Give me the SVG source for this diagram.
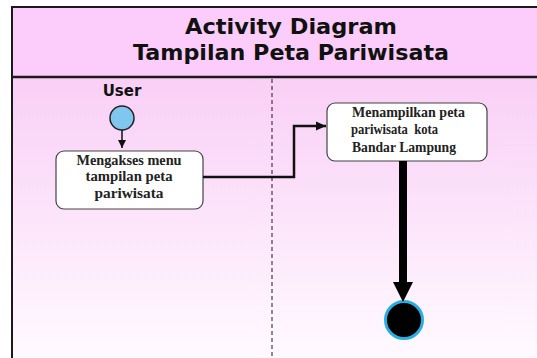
<svg xmlns="http://www.w3.org/2000/svg" width="537" height="358" viewBox="0 0 537 358">
<defs>
<linearGradient id="body" x1="0" y1="0" x2="0" y2="1">
<stop offset="0" stop-color="#f9cff6"/>
<stop offset="1" stop-color="#fffaff"/>
</linearGradient>
<marker id="arrSmall" markerWidth="10" markerHeight="10" refX="8" refY="5" orient="auto" markerUnits="userSpaceOnUse">
<path d="M0,1 L8,5 L0,9 Z" fill="#111"/>
</marker>
<marker id="arrMid" markerWidth="12" markerHeight="12" refX="10" refY="6" orient="auto" markerUnits="userSpaceOnUse">
<path d="M0,1.5 L10,6 L0,10.5 Z" fill="#111"/>
</marker>
</defs>
<style>
.title{font-family:"DejaVu Sans","Lato",sans-serif;font-weight:bold;font-size:22px;fill:#111;text-anchor:middle}
.lane{font-family:"DejaVu Sans","Lato",sans-serif;font-weight:bold;font-size:15px;fill:#111;text-anchor:middle}
.act{fill:#ffffff;stroke:#444;stroke-width:1.2}
.lbl{font-family:"Liberation Serif","Times New Roman",serif;font-weight:bold;font-size:14px;fill:#222}
.conn{fill:none;stroke:#111;stroke-width:2.5}
</style>
<rect x="0" y="0" width="537" height="358" fill="#ffffff"/>
<rect x="12" y="7" width="525" height="70" fill="#fccdfa"/>
<rect x="12" y="77" width="525" height="281" fill="url(#body)"/>
<g id="frame" stroke="#1a1a1a" fill="none">
<line x1="11" y1="7" x2="537" y2="7" stroke-width="2"/>
<line x1="12" y1="6" x2="12" y2="358" stroke-width="2"/>
<line x1="11" y1="77" x2="537" y2="77" stroke-width="2.5"/>
<line x1="272" y1="79" x2="272" y2="358" stroke-width="1" stroke-dasharray="4,3"/>
</g>
<g id="title">
<text class="title" x="291" y="34" textLength="212" lengthAdjust="spacingAndGlyphs">Activity Diagram</text>
<text class="title" x="291" y="60" textLength="316" lengthAdjust="spacingAndGlyphs">Tampilan Peta Pariwisata</text>
</g>
<g id="lane-user">
<text class="lane" x="122" y="96">User</text>
</g>
<g id="start">
<circle cx="122" cy="118" r="12" fill="#80c6ee" stroke="#222" stroke-width="1.5"/>
</g>
<g id="act1">
<rect class="act" x="56" y="151" width="147" height="58" rx="8"/>
<text class="lbl" x="129" y="165" text-anchor="middle" textLength="105" lengthAdjust="spacingAndGlyphs">Mengakses menu</text>
<text class="lbl" x="129" y="181" text-anchor="middle" textLength="87" lengthAdjust="spacingAndGlyphs">tampilan peta</text>
<text class="lbl" x="129" y="198" text-anchor="middle" textLength="69" lengthAdjust="spacingAndGlyphs">pariwisata</text>
</g>
<g id="act2">
<rect class="act" x="327" y="103" width="160" height="58" rx="8"/>
<text class="lbl" x="352" y="117" textLength="113" lengthAdjust="spacingAndGlyphs">Menampilkan peta</text>
<text class="lbl" x="351" y="134" xml:space="preserve" textLength="87" lengthAdjust="spacingAndGlyphs">pariwisata  kota</text>
<text class="lbl" x="352" y="152" textLength="104" lengthAdjust="spacingAndGlyphs">Bandar Lampung</text>
</g>
<g id="end">
<circle cx="404" cy="320" r="18.5" fill="#000" stroke="#2aaee0" stroke-width="3"/>
</g>
<g id="connectors">
<line x1="122" y1="130" x2="122" y2="148" stroke="#111" stroke-width="1.5" marker-end="url(#arrSmall)"/>
<polyline class="conn" points="203,177 294,177 294,126 326,126" marker-end="url(#arrMid)"/>
<line x1="403" y1="161" x2="403" y2="284" stroke="#000" stroke-width="8"/>
<path d="M393,282 L413,282 L403,302 Z" fill="#000"/>
</g>
</svg>
